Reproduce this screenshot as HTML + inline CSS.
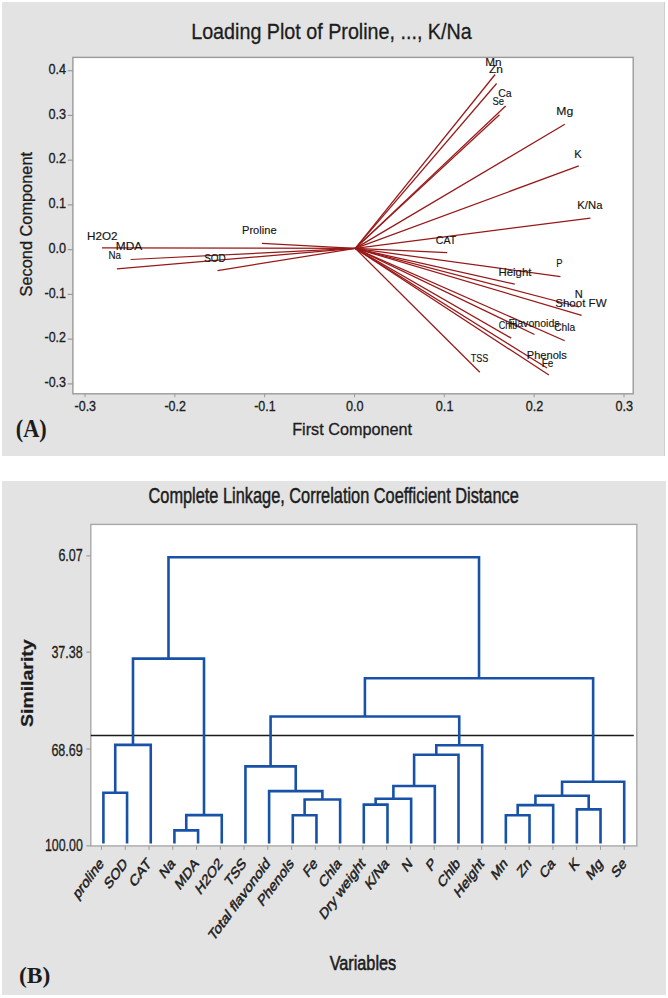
<!DOCTYPE html>
<html><head><meta charset="utf-8"><style>
html,body{margin:0;padding:0;background:#fff;}
svg{display:block;font-family:"Liberation Sans",sans-serif;}
text{stroke:#1c1c1c;stroke-width:0.3px;}
</style></head><body>
<svg width="668" height="998" viewBox="0 0 668 998">
<rect x="2" y="2" width="663" height="454" fill="#e3e3e3"/>
<rect x="664" y="2" width="1" height="454" fill="#cfcfcf"/>
<rect x="72.9" y="57.4" width="560.3000000000001" height="336.40000000000003" fill="#fff" stroke="#9a9a9a" stroke-width="1.4"/>
<text x="191.20" y="38.60" font-size="22.5" textLength="280.5" lengthAdjust="spacingAndGlyphs" fill="#1c1c1c">Loading Plot of Proline, ..., K/Na</text>
<line x1="67.7" y1="70.70" x2="72.9" y2="70.70" stroke="#9a9a9a" stroke-width="1.2"/>
<text x="66.00" y="73.80" font-size="14.3" text-anchor="end" textLength="17.6" lengthAdjust="spacingAndGlyphs" fill="#1c1c1c">0.4</text>
<line x1="67.7" y1="115.44" x2="72.9" y2="115.44" stroke="#9a9a9a" stroke-width="1.2"/>
<text x="66.00" y="118.54" font-size="14.3" text-anchor="end" textLength="17.6" lengthAdjust="spacingAndGlyphs" fill="#1c1c1c">0.3</text>
<line x1="67.7" y1="160.18" x2="72.9" y2="160.18" stroke="#9a9a9a" stroke-width="1.2"/>
<text x="66.00" y="163.28" font-size="14.3" text-anchor="end" textLength="17.6" lengthAdjust="spacingAndGlyphs" fill="#1c1c1c">0.2</text>
<line x1="67.7" y1="204.92" x2="72.9" y2="204.92" stroke="#9a9a9a" stroke-width="1.2"/>
<text x="66.00" y="208.02" font-size="14.3" text-anchor="end" textLength="17.6" lengthAdjust="spacingAndGlyphs" fill="#1c1c1c">0.1</text>
<line x1="67.7" y1="249.66" x2="72.9" y2="249.66" stroke="#9a9a9a" stroke-width="1.2"/>
<text x="66.00" y="252.76" font-size="14.3" text-anchor="end" textLength="17.6" lengthAdjust="spacingAndGlyphs" fill="#1c1c1c">0.0</text>
<line x1="67.7" y1="294.40" x2="72.9" y2="294.40" stroke="#9a9a9a" stroke-width="1.2"/>
<text x="66.00" y="297.50" font-size="14.3" text-anchor="end" textLength="21.5" lengthAdjust="spacingAndGlyphs" fill="#1c1c1c">-0.1</text>
<line x1="67.7" y1="339.14" x2="72.9" y2="339.14" stroke="#9a9a9a" stroke-width="1.2"/>
<text x="66.00" y="342.24" font-size="14.3" text-anchor="end" textLength="21.5" lengthAdjust="spacingAndGlyphs" fill="#1c1c1c">-0.2</text>
<line x1="67.7" y1="383.88" x2="72.9" y2="383.88" stroke="#9a9a9a" stroke-width="1.2"/>
<text x="66.00" y="386.98" font-size="14.3" text-anchor="end" textLength="21.5" lengthAdjust="spacingAndGlyphs" fill="#1c1c1c">-0.3</text>
<line x1="85.01" y1="393.8" x2="85.01" y2="397.3" stroke="#9a9a9a" stroke-width="1"/>
<text x="85.31" y="411.20" font-size="14.3" text-anchor="middle" textLength="21.5" lengthAdjust="spacingAndGlyphs" fill="#1c1c1c">-0.3</text>
<line x1="174.84" y1="393.8" x2="174.84" y2="397.3" stroke="#9a9a9a" stroke-width="1"/>
<text x="175.14" y="411.20" font-size="14.3" text-anchor="middle" textLength="21.5" lengthAdjust="spacingAndGlyphs" fill="#1c1c1c">-0.2</text>
<line x1="264.67" y1="393.8" x2="264.67" y2="397.3" stroke="#9a9a9a" stroke-width="1"/>
<text x="264.97" y="411.20" font-size="14.3" text-anchor="middle" textLength="21.5" lengthAdjust="spacingAndGlyphs" fill="#1c1c1c">-0.1</text>
<line x1="354.50" y1="393.8" x2="354.50" y2="397.3" stroke="#9a9a9a" stroke-width="1"/>
<text x="354.80" y="411.20" font-size="14.3" text-anchor="middle" textLength="17.6" lengthAdjust="spacingAndGlyphs" fill="#1c1c1c">0.0</text>
<line x1="444.33" y1="393.8" x2="444.33" y2="397.3" stroke="#9a9a9a" stroke-width="1"/>
<text x="444.63" y="411.20" font-size="14.3" text-anchor="middle" textLength="17.6" lengthAdjust="spacingAndGlyphs" fill="#1c1c1c">0.1</text>
<line x1="534.16" y1="393.8" x2="534.16" y2="397.3" stroke="#9a9a9a" stroke-width="1"/>
<text x="534.46" y="411.20" font-size="14.3" text-anchor="middle" textLength="17.6" lengthAdjust="spacingAndGlyphs" fill="#1c1c1c">0.2</text>
<line x1="623.99" y1="393.8" x2="623.99" y2="397.3" stroke="#9a9a9a" stroke-width="1"/>
<text x="624.29" y="411.20" font-size="14.3" text-anchor="middle" textLength="17.6" lengthAdjust="spacingAndGlyphs" fill="#1c1c1c">0.3</text>
<text x="352.10" y="435.30" font-size="16.5" text-anchor="middle" textLength="119.8" lengthAdjust="spacingAndGlyphs" fill="#1c1c1c">First Component</text>
<text x="31.80" y="224.20" font-size="16.5" text-anchor="middle" textLength="144.4" lengthAdjust="spacingAndGlyphs" transform="rotate(-90 31.8 224.2)" fill="#1c1c1c">Second Component</text>
<text x="15.80" y="436.60" font-size="24.7" font-family="Liberation Serif" font-weight="700" textLength="31" lengthAdjust="spacingAndGlyphs" fill="#1c1c1c" style="stroke:none">(A)</text>
<line x1="355.3" y1="248.4" x2="102" y2="247.8" stroke="#981818" stroke-width="1.25"/>
<line x1="355.3" y1="248.4" x2="130.6" y2="259.5" stroke="#981818" stroke-width="1.25"/>
<line x1="355.3" y1="248.4" x2="116.9" y2="268.9" stroke="#981818" stroke-width="1.25"/>
<line x1="355.3" y1="248.4" x2="261.9" y2="243.3" stroke="#981818" stroke-width="1.25"/>
<line x1="355.3" y1="248.4" x2="217.5" y2="270.6" stroke="#981818" stroke-width="1.25"/>
<line x1="355.3" y1="248.4" x2="447.2" y2="252.6" stroke="#981818" stroke-width="1.25"/>
<line x1="355.3" y1="248.4" x2="495.1" y2="74.5" stroke="#981818" stroke-width="1.25"/>
<line x1="355.3" y1="248.4" x2="496.6" y2="83.5" stroke="#981818" stroke-width="1.25"/>
<line x1="355.3" y1="248.4" x2="505.6" y2="106" stroke="#981818" stroke-width="1.25"/>
<line x1="355.3" y1="248.4" x2="499.5" y2="114.8" stroke="#981818" stroke-width="1.25"/>
<line x1="355.3" y1="248.4" x2="564.8" y2="124.3" stroke="#981818" stroke-width="1.25"/>
<line x1="355.3" y1="248.4" x2="578.8" y2="165.9" stroke="#981818" stroke-width="1.25"/>
<line x1="355.3" y1="248.4" x2="590.4" y2="218.1" stroke="#981818" stroke-width="1.25"/>
<line x1="355.3" y1="248.4" x2="560.4" y2="276.6" stroke="#981818" stroke-width="1.25"/>
<line x1="355.3" y1="248.4" x2="514.8" y2="284.2" stroke="#981818" stroke-width="1.25"/>
<line x1="355.3" y1="248.4" x2="579" y2="307" stroke="#981818" stroke-width="1.25"/>
<line x1="355.3" y1="248.4" x2="581.6" y2="315.4" stroke="#981818" stroke-width="1.25"/>
<line x1="355.3" y1="248.4" x2="534.5" y2="334.5" stroke="#981818" stroke-width="1.25"/>
<line x1="355.3" y1="248.4" x2="564.7" y2="340.8" stroke="#981818" stroke-width="1.25"/>
<line x1="355.3" y1="248.4" x2="511.2" y2="338.1" stroke="#981818" stroke-width="1.25"/>
<line x1="355.3" y1="248.4" x2="479.8" y2="372.2" stroke="#981818" stroke-width="1.25"/>
<line x1="355.3" y1="248.4" x2="547" y2="368" stroke="#981818" stroke-width="1.25"/>
<line x1="355.3" y1="248.4" x2="548.9" y2="375.1" stroke="#981818" stroke-width="1.25"/>
<text x="102.30" y="240.00" font-size="11.8" text-anchor="middle" textLength="30.6" lengthAdjust="spacingAndGlyphs" fill="#111" style="stroke-width:0.15px">H2O2</text>
<text x="129.00" y="249.50" font-size="11.8" text-anchor="middle" textLength="26.3" lengthAdjust="spacingAndGlyphs" fill="#111" style="stroke-width:0.15px">MDA</text>
<text x="114.80" y="259.00" font-size="11.8" text-anchor="middle" textLength="12.5" lengthAdjust="spacingAndGlyphs" fill="#111" style="stroke-width:0.15px">Na</text>
<text x="259.30" y="233.50" font-size="11.8" text-anchor="middle" textLength="34.6" lengthAdjust="spacingAndGlyphs" fill="#111" style="stroke-width:0.15px">Proline</text>
<text x="215.00" y="262.00" font-size="11.8" text-anchor="middle" textLength="21.6" lengthAdjust="spacingAndGlyphs" fill="#111" style="stroke-width:0.15px">SOD</text>
<text x="446.00" y="244.30" font-size="11.8" text-anchor="middle" textLength="20.4" lengthAdjust="spacingAndGlyphs" fill="#111" style="stroke-width:0.15px">CAT</text>
<text x="493.30" y="65.50" font-size="11.8" text-anchor="middle" textLength="16.3" lengthAdjust="spacingAndGlyphs" fill="#111" style="stroke-width:0.15px">Mn</text>
<text x="496.00" y="72.80" font-size="11.8" text-anchor="middle" textLength="13.9" lengthAdjust="spacingAndGlyphs" fill="#111" style="stroke-width:0.15px">Zn</text>
<text x="504.90" y="96.70" font-size="11.8" text-anchor="middle" textLength="13.4" lengthAdjust="spacingAndGlyphs" fill="#111" style="stroke-width:0.15px">Ca</text>
<text x="498.20" y="105.30" font-size="11.8" text-anchor="middle" textLength="11.5" lengthAdjust="spacingAndGlyphs" fill="#111" style="stroke-width:0.15px">Se</text>
<text x="564.70" y="114.80" font-size="11.8" text-anchor="middle" textLength="16.9" lengthAdjust="spacingAndGlyphs" fill="#111" style="stroke-width:0.15px">Mg</text>
<text x="578.00" y="158.00" font-size="11.8" text-anchor="middle" textLength="7.5" lengthAdjust="spacingAndGlyphs" fill="#111" style="stroke-width:0.15px">K</text>
<text x="589.90" y="208.80" font-size="11.8" text-anchor="middle" textLength="25.1" lengthAdjust="spacingAndGlyphs" fill="#111" style="stroke-width:0.15px">K/Na</text>
<text x="559.50" y="266.50" font-size="11.8" text-anchor="middle" textLength="6.3" lengthAdjust="spacingAndGlyphs" fill="#111" style="stroke-width:0.15px">P</text>
<text x="515.00" y="275.60" font-size="11.8" text-anchor="middle" textLength="32.9" lengthAdjust="spacingAndGlyphs" fill="#111" style="stroke-width:0.15px">Height</text>
<text x="578.80" y="297.60" font-size="11.8" text-anchor="middle" textLength="8" lengthAdjust="spacingAndGlyphs" fill="#111" style="stroke-width:0.15px">N</text>
<text x="580.90" y="307.40" font-size="11.8" text-anchor="middle" textLength="51.3" lengthAdjust="spacingAndGlyphs" fill="#111" style="stroke-width:0.15px">Shoot FW</text>
<text x="534.00" y="327.00" font-size="11.8" text-anchor="middle" textLength="51.2" lengthAdjust="spacingAndGlyphs" fill="#111" style="stroke-width:0.15px">Flavonoids</text>
<text x="564.70" y="331.00" font-size="11.8" text-anchor="middle" textLength="21" lengthAdjust="spacingAndGlyphs" fill="#111" style="stroke-width:0.15px">Chla</text>
<text x="508.00" y="329.00" font-size="11.8" text-anchor="middle" textLength="18.6" lengthAdjust="spacingAndGlyphs" fill="#111" style="stroke-width:0.15px">Chlb</text>
<text x="479.60" y="361.50" font-size="11.8" text-anchor="middle" textLength="17.6" lengthAdjust="spacingAndGlyphs" fill="#111" style="stroke-width:0.15px">TSS</text>
<text x="546.80" y="358.80" font-size="11.8" text-anchor="middle" textLength="40.1" lengthAdjust="spacingAndGlyphs" fill="#111" style="stroke-width:0.15px">Phenols</text>
<text x="547.50" y="367.20" font-size="11.8" text-anchor="middle" textLength="11.7" lengthAdjust="spacingAndGlyphs" fill="#111" style="stroke-width:0.15px">Fe</text>
<rect x="2" y="481" width="664" height="514" fill="#e3e3e3"/>
<rect x="90.8" y="524.4" width="546.0" height="321.5" fill="#fff" stroke="#a9a9a9" stroke-width="1.4"/>
<text x="148.50" y="502.70" font-size="21.5" textLength="370.3" lengthAdjust="spacingAndGlyphs" fill="#1c1c1c" style="stroke-width:0.5px">Complete Linkage, Correlation Coefficient Distance</text>
<line x1="86.3" y1="555.90" x2="90.8" y2="555.90" stroke="#9a9a9a" stroke-width="1.1"/>
<text x="82.80" y="561.35" font-size="16.5" text-anchor="end" textLength="24.4" lengthAdjust="spacingAndGlyphs" fill="#1c1c1c">6.07</text>
<line x1="86.3" y1="652.10" x2="90.8" y2="652.10" stroke="#9a9a9a" stroke-width="1.1"/>
<text x="82.80" y="658.40" font-size="16.5" text-anchor="end" textLength="31.4" lengthAdjust="spacingAndGlyphs" fill="#1c1c1c">37.38</text>
<line x1="86.3" y1="749.00" x2="90.8" y2="749.00" stroke="#9a9a9a" stroke-width="1.1"/>
<text x="82.80" y="755.50" font-size="16.5" text-anchor="end" textLength="31.4" lengthAdjust="spacingAndGlyphs" fill="#1c1c1c">68.69</text>
<line x1="86.3" y1="845.90" x2="90.8" y2="845.90" stroke="#9a9a9a" stroke-width="1.1"/>
<text x="82.80" y="850.90" font-size="16.5" text-anchor="end" textLength="37.9" lengthAdjust="spacingAndGlyphs" fill="#1c1c1c">100.00</text>
<text x="0.00" y="0.00" font-size="21" font-weight="700" text-anchor="middle" textLength="87.6" lengthAdjust="spacingAndGlyphs" transform="translate(33.1 683.2) rotate(-90) scale(1 0.8)" fill="#1c1c1c">Similarity</text>
<text x="362.90" y="969.60" font-size="21" text-anchor="middle" textLength="66.5" lengthAdjust="spacingAndGlyphs" fill="#1c1c1c" style="stroke-width:0.6px">Variables</text>
<text x="19.00" y="983.20" font-size="23.6" font-family="Liberation Serif" font-weight="700" textLength="31.4" lengthAdjust="spacingAndGlyphs" fill="#1c1c1c" style="stroke:none">(B)</text>
<line x1="90.8" y1="735.5" x2="633.8" y2="735.5" stroke="#1a1a1a" stroke-width="1.4"/>
<path d="M103.40 843.60V792.70H127.07V843.60 M115.24 792.70V744.90H150.75V843.60 M174.42 843.60V830.40H198.09V843.60 M186.26 830.40V815.10H221.76V843.60 M132.99 744.90V658.60H204.01V815.10 M292.78 843.60V815.30H316.46V843.60 M304.62 815.30V799.50H340.13V843.60 M269.11 843.60V791.10H322.38V799.50 M245.44 843.60V766.40H295.74V791.10 M363.80 843.60V804.60H387.48V843.60 M375.64 804.60V798.70H411.15V843.60 M393.39 798.70V786.00H434.82V843.60 M414.11 786.00V754.70H458.50V843.60 M436.30 754.70V745.30H482.17V843.60 M270.59 766.40V716.50H459.23V745.30 M505.84 843.60V815.30H529.51V843.60 M517.68 815.30V805.10H553.19V843.60 M576.86 843.60V809.40H600.53V843.60 M535.43 805.10V795.70H588.70V809.40 M562.06 795.70V781.70H624.21V843.60 M364.91 716.50V678.30H593.14V781.70 M168.50 658.60V557.20H479.02V678.30" fill="none" stroke="#1852a8" stroke-width="2.6" stroke-linejoin="miter"/>
<line x1="101.50" y1="845.9" x2="101.50" y2="849.9" stroke="#9a9a9a" stroke-width="1"/>
<text x="0.00" y="0.00" font-size="15.8" text-anchor="end" textLength="50.43" lengthAdjust="spacingAndGlyphs" transform="translate(104.30 864.40) scale(0.74 1) rotate(-45)" fill="#1c1c1c" style="stroke-width:0.55px">proline</text>
<line x1="125.26" y1="845.9" x2="125.26" y2="849.9" stroke="#9a9a9a" stroke-width="1"/>
<text x="0.00" y="0.00" font-size="15.8" text-anchor="end" textLength="36.41" lengthAdjust="spacingAndGlyphs" transform="translate(128.06 864.40) scale(0.74 1) rotate(-45)" fill="#1c1c1c" style="stroke-width:0.55px">SOD</text>
<line x1="149.02" y1="845.9" x2="149.02" y2="849.9" stroke="#9a9a9a" stroke-width="1"/>
<text x="0.00" y="0.00" font-size="15.8" text-anchor="end" textLength="33.6" lengthAdjust="spacingAndGlyphs" transform="translate(151.82 864.40) scale(0.74 1) rotate(-45)" fill="#1c1c1c" style="stroke-width:0.55px">CAT</text>
<line x1="172.78" y1="845.9" x2="172.78" y2="849.9" stroke="#9a9a9a" stroke-width="1"/>
<text x="0.00" y="0.00" font-size="15.8" text-anchor="end" textLength="21.48" lengthAdjust="spacingAndGlyphs" transform="translate(175.58 864.40) scale(0.74 1) rotate(-45)" fill="#1c1c1c" style="stroke-width:0.55px">Na</text>
<line x1="196.54" y1="845.9" x2="196.54" y2="849.9" stroke="#9a9a9a" stroke-width="1"/>
<text x="0.00" y="0.00" font-size="15.8" text-anchor="end" textLength="37.33" lengthAdjust="spacingAndGlyphs" transform="translate(199.34 864.40) scale(0.74 1) rotate(-45)" fill="#1c1c1c" style="stroke-width:0.55px">MDA</text>
<line x1="220.30" y1="845.9" x2="220.30" y2="849.9" stroke="#9a9a9a" stroke-width="1"/>
<text x="0.00" y="0.00" font-size="15.8" text-anchor="end" textLength="43.89" lengthAdjust="spacingAndGlyphs" transform="translate(223.10 864.40) scale(0.74 1) rotate(-45)" fill="#1c1c1c" style="stroke-width:0.55px">H2O2</text>
<line x1="244.06" y1="845.9" x2="244.06" y2="849.9" stroke="#9a9a9a" stroke-width="1"/>
<text x="0.00" y="0.00" font-size="15.8" text-anchor="end" textLength="32.67" lengthAdjust="spacingAndGlyphs" transform="translate(246.86 864.40) scale(0.74 1) rotate(-45)" fill="#1c1c1c" style="stroke-width:0.55px">TSS</text>
<line x1="267.82" y1="845.9" x2="267.82" y2="849.9" stroke="#9a9a9a" stroke-width="1"/>
<text x="0.00" y="0.00" font-size="15.8" text-anchor="end" textLength="109.27" lengthAdjust="spacingAndGlyphs" transform="translate(270.62 864.40) scale(0.74 1) rotate(-45)" fill="#1c1c1c" style="stroke-width:0.55px">Total flavonoid</text>
<line x1="291.58" y1="845.9" x2="291.58" y2="849.9" stroke="#9a9a9a" stroke-width="1"/>
<text x="0.00" y="0.00" font-size="15.8" text-anchor="end" textLength="60.71" lengthAdjust="spacingAndGlyphs" transform="translate(294.38 864.40) scale(0.74 1) rotate(-45)" fill="#1c1c1c" style="stroke-width:0.55px">Phenols</text>
<line x1="315.34" y1="845.9" x2="315.34" y2="849.9" stroke="#9a9a9a" stroke-width="1"/>
<text x="0.00" y="0.00" font-size="15.8" text-anchor="end" textLength="19.61" lengthAdjust="spacingAndGlyphs" transform="translate(318.14 864.40) scale(0.74 1) rotate(-45)" fill="#1c1c1c" style="stroke-width:0.55px">Fe</text>
<line x1="339.10" y1="845.9" x2="339.10" y2="849.9" stroke="#9a9a9a" stroke-width="1"/>
<text x="0.00" y="0.00" font-size="15.8" text-anchor="end" textLength="34.55" lengthAdjust="spacingAndGlyphs" transform="translate(341.90 864.40) scale(0.74 1) rotate(-45)" fill="#1c1c1c" style="stroke-width:0.55px">Chla</text>
<line x1="362.86" y1="845.9" x2="362.86" y2="849.9" stroke="#9a9a9a" stroke-width="1"/>
<text x="0.00" y="0.00" font-size="15.8" text-anchor="end" textLength="79.36" lengthAdjust="spacingAndGlyphs" transform="translate(365.66 864.40) scale(0.74 1) rotate(-45)" fill="#1c1c1c" style="stroke-width:0.55px">Dry weight</text>
<line x1="386.62" y1="845.9" x2="386.62" y2="849.9" stroke="#9a9a9a" stroke-width="1"/>
<text x="0.00" y="0.00" font-size="15.8" text-anchor="end" textLength="37.35" lengthAdjust="spacingAndGlyphs" transform="translate(389.42 864.40) scale(0.74 1) rotate(-45)" fill="#1c1c1c" style="stroke-width:0.55px">K/Na</text>
<line x1="410.38" y1="845.9" x2="410.38" y2="849.9" stroke="#9a9a9a" stroke-width="1"/>
<text x="0.00" y="0.00" font-size="15.8" text-anchor="end" textLength="12.13" lengthAdjust="spacingAndGlyphs" transform="translate(413.18 864.40) scale(0.74 1) rotate(-45)" fill="#1c1c1c" style="stroke-width:0.55px">N</text>
<line x1="434.14" y1="845.9" x2="434.14" y2="849.9" stroke="#9a9a9a" stroke-width="1"/>
<text x="0.00" y="0.00" font-size="15.8" text-anchor="end" textLength="11.21" lengthAdjust="spacingAndGlyphs" transform="translate(436.94 864.40) scale(0.74 1) rotate(-45)" fill="#1c1c1c" style="stroke-width:0.55px">P</text>
<line x1="457.90" y1="845.9" x2="457.90" y2="849.9" stroke="#9a9a9a" stroke-width="1"/>
<text x="0.00" y="0.00" font-size="15.8" text-anchor="end" textLength="34.55" lengthAdjust="spacingAndGlyphs" transform="translate(460.70 864.40) scale(0.74 1) rotate(-45)" fill="#1c1c1c" style="stroke-width:0.55px">Chlb</text>
<line x1="481.66" y1="845.9" x2="481.66" y2="849.9" stroke="#9a9a9a" stroke-width="1"/>
<text x="0.00" y="0.00" font-size="15.8" text-anchor="end" textLength="48.56" lengthAdjust="spacingAndGlyphs" transform="translate(484.46 864.40) scale(0.74 1) rotate(-45)" fill="#1c1c1c" style="stroke-width:0.55px">Height</text>
<line x1="505.42" y1="845.9" x2="505.42" y2="849.9" stroke="#9a9a9a" stroke-width="1"/>
<text x="0.00" y="0.00" font-size="15.8" text-anchor="end" textLength="23.34" lengthAdjust="spacingAndGlyphs" transform="translate(508.22 864.40) scale(0.74 1) rotate(-45)" fill="#1c1c1c" style="stroke-width:0.55px">Mn</text>
<line x1="529.18" y1="845.9" x2="529.18" y2="849.9" stroke="#9a9a9a" stroke-width="1"/>
<text x="0.00" y="0.00" font-size="15.8" text-anchor="end" textLength="19.61" lengthAdjust="spacingAndGlyphs" transform="translate(531.98 864.40) scale(0.74 1) rotate(-45)" fill="#1c1c1c" style="stroke-width:0.55px">Zn</text>
<line x1="552.94" y1="845.9" x2="552.94" y2="849.9" stroke="#9a9a9a" stroke-width="1"/>
<text x="0.00" y="0.00" font-size="15.8" text-anchor="end" textLength="21.48" lengthAdjust="spacingAndGlyphs" transform="translate(555.74 864.40) scale(0.74 1) rotate(-45)" fill="#1c1c1c" style="stroke-width:0.55px">Ca</text>
<line x1="576.70" y1="845.9" x2="576.70" y2="849.9" stroke="#9a9a9a" stroke-width="1"/>
<text x="0.00" y="0.00" font-size="15.8" text-anchor="end" textLength="11.21" lengthAdjust="spacingAndGlyphs" transform="translate(579.50 864.40) scale(0.74 1) rotate(-45)" fill="#1c1c1c" style="stroke-width:0.55px">K</text>
<line x1="600.46" y1="845.9" x2="600.46" y2="849.9" stroke="#9a9a9a" stroke-width="1"/>
<text x="0.00" y="0.00" font-size="15.8" text-anchor="end" textLength="23.34" lengthAdjust="spacingAndGlyphs" transform="translate(603.26 864.40) scale(0.74 1) rotate(-45)" fill="#1c1c1c" style="stroke-width:0.55px">Mg</text>
<line x1="624.22" y1="845.9" x2="624.22" y2="849.9" stroke="#9a9a9a" stroke-width="1"/>
<text x="0.00" y="0.00" font-size="15.8" text-anchor="end" textLength="20.55" lengthAdjust="spacingAndGlyphs" transform="translate(627.02 864.40) scale(0.74 1) rotate(-45)" fill="#1c1c1c" style="stroke-width:0.55px">Se</text>
</svg>
</body></html>
